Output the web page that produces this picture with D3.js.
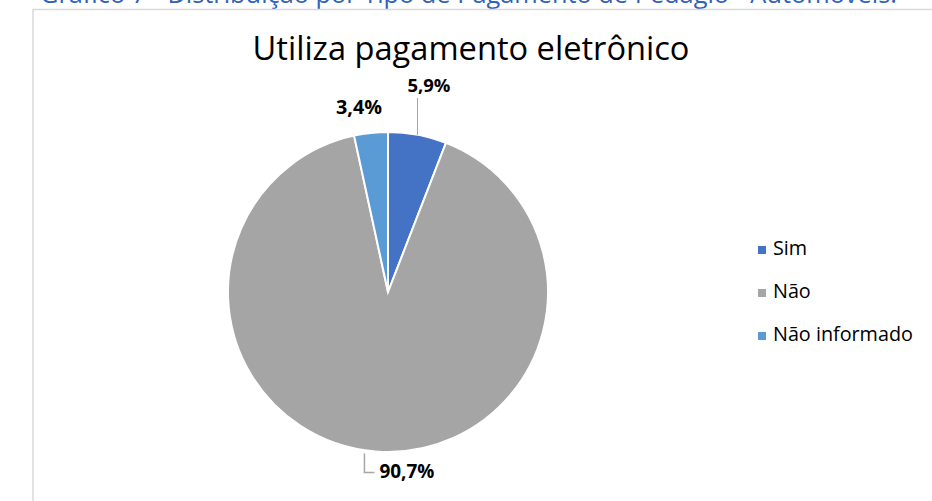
<!DOCTYPE html>
<html><head><meta charset="utf-8">
<script src="https://cdn.jsdelivr.net/npm/d3@7"></script>
<style>body{margin:0;background:#fff}svg{display:block}</style>
</head><body>
<script>
const categories = ["Sim", "Não", "Não informado"];
const values = [5.9, 90.7, 3.4];
const labels = ["5,9%", "90,7%", "3,4%"];
const colors = ["#4472C4", "#A5A5A5", "#5B9BD5"];
const title = "Utiliza pagamento eletrônico";
const caption = "Gráfico 7 - Distribuição por Tipo de Pagamento de Pedágio - Automóveis.";

const W = 932, H = 501;
const svg = d3.select("body").append("svg").attr("width", W).attr("height", H);
const font = "'Open Sans', 'Noto Sans', sans-serif";

// scale a text's font-size so its rendered width matches a target width
function fit(sel, target) {
  const fs = +sel.attr("font-size");
  const w = sel.node().getComputedTextLength();
  if (w > 0) sel.attr("font-size", fs * target / w);
  return sel;
}

fit(svg.append("text").attr("x", 40).attr("y", 3).attr("fill", "#2F62B8")
  .attr("font-family", font).attr("font-size", 20).text(caption), 857);

svg.append("rect").attr("x", 33).attr("y", 9.5).attr("width", 920).attr("height", 520)
  .attr("fill", "#fff").attr("stroke", "#d9d9d9").attr("stroke-width", 1.5);

fit(svg.append("text").attr("x", 471).attr("y", 60).attr("text-anchor", "middle")
  .attr("font-family", font).attr("font-size", 27).attr("fill", "#000").text(title), 437);

const cx = 388, cy = 292, r = 160;
const pie = d3.pie().sort(null).value(d => d)(values);
const arc = d3.arc().innerRadius(0).outerRadius(r);
const g = svg.append("g").attr("transform", `translate(${cx},${cy})`);
g.selectAll("path").data(pie).join("path").attr("d", arc)
  .attr("fill", (d, i) => colors[i]).attr("stroke", "#fff").attr("stroke-width", 2);

const lineColor = "#A6A6A6";
// Sim
const a0 = (pie[0].startAngle + pie[0].endAngle) / 2;
const p0 = [Math.sin(a0) * r, -Math.cos(a0) * r];
g.append("path").attr("d", `M${p0[0]},${p0[1]} L${p0[0]},${-194}`).attr("stroke", lineColor).attr("fill", "none");
fit(g.append("text").attr("x", p0[0] - 10).attr("y", -200)
  .attr("font-family", font).attr("font-weight", "bold").attr("font-size", 16).text(labels[0]), 43);
// Não
const a1 = (pie[1].startAngle + pie[1].endAngle) / 2;
const p1 = [Math.sin(a1) * r, -Math.cos(a1) * r];
g.append("path").attr("d", `M${p1[0] - 11},${p1[1] + 2} L${p1[0] - 11},${p1[1] + 21} L${p1[0] - 1},${p1[1] + 21}`)
  .attr("stroke", lineColor).attr("fill", "none").attr("stroke-width", 1.5);
fit(g.append("text").attr("x", p1[0] + 4).attr("y", p1[1] + 26)
  .attr("font-family", font).attr("font-weight", "bold").attr("font-size", 16).text(labels[1]), 55);
// Não informado
fit(g.append("text").attr("x", -52).attr("y", -178)
  .attr("font-family", font).attr("font-weight", "bold").attr("font-size", 16).text(labels[2]), 46);

// legend
const lg = svg.append("g").attr("transform", "translate(758,255)");
categories.forEach((c, i) => {
  lg.append("rect").attr("x", 0).attr("y", i * 43 - 9).attr("width", 8).attr("height", 8).attr("fill", colors[i]);
  const t = lg.append("text").attr("x", 15).attr("y", i * 43).attr("font-family", font)
    .attr("font-size", 17).attr("fill", "#000").text(c);
  if (i === 2) fit(t, 140);
});
const lfs = lg.selectAll("text").filter((d, i) => i === 2).attr("font-size");
lg.selectAll("text").attr("font-size", lfs);
</script>
</body></html>
